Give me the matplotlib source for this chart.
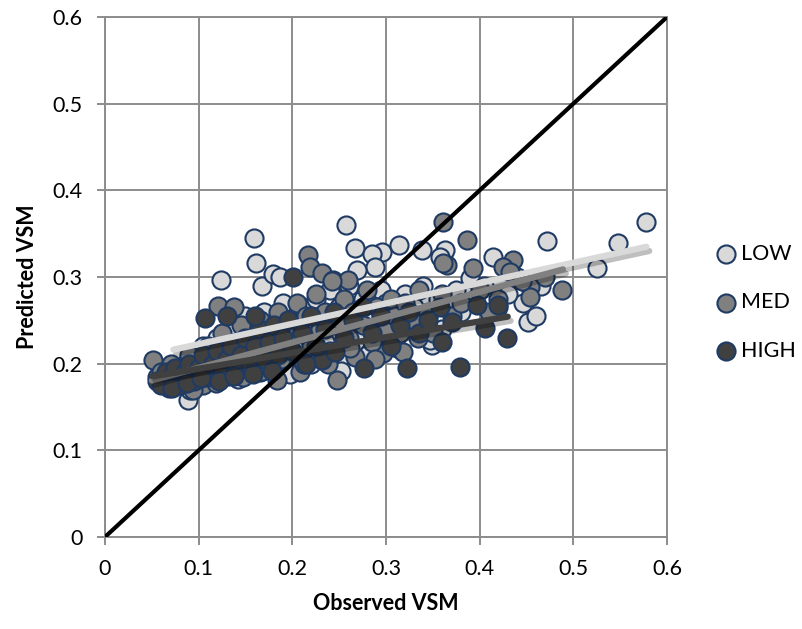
import matplotlib
matplotlib.use('Agg')
import matplotlib.pyplot as plt
import matplotlib.patheffects as pe
import numpy as np

plt.rcParams['font.family'] = ['Lato', 'DejaVu Sans']

# --- data (observed, predicted) ---
low_x = [0.159, 0.161, 0.124, 0.168, 0.179, 0.187, 0.257, 0.267, 0.296, 0.314,
         0.285, 0.338, 0.363, 0.358, 0.288, 0.269, 0.414, 0.390, 0.472, 0.525,
         0.548, 0.578, 0.446, 0.452, 0.349, 0.368, 0.089, 0.091, 0.347,
         0.070, 0.080, 0.085, 0.090, 0.095, 0.100, 0.105, 0.110, 0.115, 0.120,
         0.125, 0.130, 0.135, 0.140, 0.145, 0.150, 0.155, 0.160, 0.165, 0.170,
         0.175, 0.180, 0.185, 0.190, 0.195, 0.200, 0.205, 0.210, 0.215, 0.220,
         0.225, 0.230, 0.235, 0.240, 0.245, 0.250, 0.255, 0.260, 0.265, 0.270,
         0.275, 0.280, 0.290, 0.295, 0.300, 0.305, 0.310, 0.320, 0.325, 0.330,
         0.340, 0.345, 0.355, 0.360, 0.375, 0.380, 0.395, 0.405, 0.420, 0.430,
         0.440, 0.465, 0.460,
         0.075, 0.098, 0.112, 0.128, 0.142, 0.172, 0.198, 0.228, 0.252, 0.282,
         0.312, 0.335]
low_y = [0.345, 0.316, 0.297, 0.290, 0.303, 0.300, 0.360, 0.333, 0.329, 0.337,
         0.327, 0.331, 0.331, 0.323, 0.312, 0.308, 0.323, 0.299, 0.341, 0.310,
         0.339, 0.363, 0.270, 0.248, 0.222, 0.265, 0.158, 0.170, 0.227,
         0.190, 0.185, 0.200, 0.175, 0.210, 0.195, 0.220, 0.180, 0.205, 0.230,
         0.190, 0.215, 0.245, 0.200, 0.225, 0.255, 0.210, 0.235, 0.190, 0.260,
         0.220, 0.245, 0.205, 0.270, 0.230, 0.250, 0.215, 0.265, 0.240, 0.200,
         0.275, 0.255, 0.225, 0.285, 0.245, 0.265, 0.210, 0.290, 0.250, 0.235,
         0.275, 0.260, 0.245, 0.285, 0.270, 0.230, 0.255, 0.280, 0.245, 0.265,
         0.290, 0.255, 0.275, 0.240, 0.285, 0.260, 0.275, 0.290, 0.265, 0.280,
         0.300, 0.290, 0.255,
         0.178, 0.186, 0.196, 0.205, 0.182, 0.198, 0.188, 0.208, 0.192, 0.212,
         0.218, 0.236]

med_x = [0.051, 0.121, 0.138, 0.217, 0.219, 0.232, 0.243, 0.259, 0.361, 0.386,
         0.365, 0.361, 0.436, 0.425, 0.432, 0.393, 0.454, 0.454, 0.488, 0.248,
         0.297, 0.334, 0.315, 0.318, 0.267, 0.208, 0.184, 0.147, 0.242,
         0.055, 0.060, 0.065, 0.070, 0.075, 0.080, 0.085, 0.090, 0.095, 0.100,
         0.105, 0.110, 0.115, 0.120, 0.125, 0.130, 0.135, 0.140, 0.145, 0.150,
         0.155, 0.160, 0.165, 0.170, 0.175, 0.180, 0.185, 0.190, 0.195, 0.200,
         0.205, 0.210, 0.215, 0.220, 0.225, 0.230, 0.235, 0.240, 0.250, 0.255,
         0.260, 0.265, 0.275, 0.280, 0.285, 0.290, 0.300, 0.305, 0.310, 0.320,
         0.330, 0.335, 0.345, 0.350, 0.360, 0.370, 0.380, 0.400, 0.410, 0.420,
         0.445, 0.470,
         0.068, 0.082, 0.094, 0.108, 0.118, 0.132, 0.152, 0.168, 0.188, 0.212,
         0.238, 0.262, 0.288]
med_y = [0.204, 0.267, 0.265, 0.325, 0.312, 0.305, 0.297, 0.297, 0.364, 0.343,
         0.314, 0.316, 0.320, 0.312, 0.306, 0.310, 0.289, 0.277, 0.285, 0.181,
         0.212, 0.230, 0.235, 0.213, 0.208, 0.190, 0.181, 0.185, 0.295,
         0.185, 0.190, 0.180, 0.200, 0.175, 0.195, 0.185, 0.210, 0.190, 0.200,
         0.175, 0.220, 0.195, 0.185, 0.235, 0.200, 0.215, 0.190, 0.245, 0.210,
         0.225, 0.200, 0.250, 0.215, 0.235, 0.200, 0.260, 0.225, 0.245, 0.210,
         0.270, 0.235, 0.255, 0.220, 0.280, 0.240, 0.260, 0.215, 0.250, 0.275,
         0.230, 0.260, 0.245, 0.285, 0.225, 0.265, 0.240, 0.275, 0.255, 0.270,
         0.250, 0.285, 0.260, 0.235, 0.280, 0.255, 0.270, 0.285, 0.260, 0.275,
         0.295, 0.300,
         0.172, 0.182, 0.170, 0.190, 0.178, 0.186, 0.196, 0.192, 0.205, 0.200,
         0.200, 0.218, 0.205]

high_x = [0.107, 0.201, 0.276, 0.322, 0.379, 0.397, 0.420, 0.406, 0.429, 0.370,
          0.358, 0.232, 0.246,
          0.055, 0.060, 0.065, 0.070, 0.075, 0.080, 0.085, 0.090, 0.095, 0.100,
          0.105, 0.110, 0.115, 0.120, 0.125, 0.130, 0.135, 0.140, 0.145, 0.150,
          0.155, 0.160, 0.165, 0.170, 0.175, 0.180, 0.185, 0.190, 0.195, 0.200,
          0.210, 0.220, 0.225, 0.235, 0.245, 0.255, 0.265, 0.275, 0.285, 0.295,
          0.305, 0.315, 0.325, 0.335, 0.345, 0.360,
          0.072, 0.088, 0.102, 0.122, 0.138, 0.158, 0.178, 0.215, 0.130, 0.160]
high_y = [0.253, 0.300, 0.195, 0.195, 0.196, 0.268, 0.268, 0.241, 0.230, 0.248,
          0.265, 0.204, 0.213,
          0.180, 0.175, 0.190, 0.185, 0.195, 0.175, 0.190, 0.200, 0.180, 0.195,
          0.210, 0.185, 0.200, 0.215, 0.190, 0.205, 0.220, 0.195, 0.210, 0.230,
          0.200, 0.220, 0.240, 0.205, 0.225, 0.245, 0.210, 0.230, 0.250, 0.215,
          0.235, 0.255, 0.220, 0.240, 0.260, 0.230, 0.250, 0.265, 0.235, 0.255,
          0.220, 0.245, 0.260, 0.235, 0.250, 0.225,
          0.172, 0.178, 0.183, 0.180, 0.186, 0.188, 0.192, 0.200, 0.255, 0.255]

# linear trend lines (slope, intercept, x start, x end)
low_trend = [0.235, 0.199, 0.073, 0.578]
med_trend = [0.292, 0.166, 0.050, 0.489]
high_trend = [0.182, 0.176, 0.051, 0.430]

series = [
    ('LOW', low_x, low_y, low_trend, '#D9D9D9'),
    ('MED', med_x, med_y, med_trend, '#808080'),
    ('HIGH', high_x, high_y, high_trend, '#404040'),
]

fig = plt.figure(figsize=(8.03, 6.29), dpi=100)
ax = fig.add_axes([105 / 803, 92 / 629, 562 / 803, 520 / 629])

for name, xs, ys, trend, color in series:
    ax.scatter(xs, ys, s=170, c=color, edgecolors='#1F3B64', linewidths=1.5,
               label=name, zorder=3)

for name, xs, ys, trend, color in series:
    slope, icpt, x0, x1 = trend
    tx = np.array([x0, x1])
    ax.plot(tx, slope * tx + icpt, color=color, lw=4.5, solid_capstyle='round',
            zorder=4,
            path_effects=[pe.SimpleLineShadow(offset=(2, -3), alpha=0.25,
                                              shadow_color='black'),
                          pe.Normal()])

ax.plot([0, 0.6], [0, 0.6], color='black', lw=3, zorder=5)

ax.set_xlim(0, 0.6)
ax.set_ylim(0, 0.6)
ticks = [0, 0.1, 0.2, 0.3, 0.4, 0.5, 0.6]
tick_labels = ['0', '0.1', '0.2', '0.3', '0.4', '0.5', '0.6']
ax.set_xticks(ticks)
ax.set_xticklabels(tick_labels)
ax.set_yticks(ticks)
ax.set_yticklabels(tick_labels)
ax.grid(True, color='#8C8C8C', lw=1.4, zorder=0)
ax.set_axisbelow(True)
for sp in ax.spines.values():
    sp.set_color('#8C8C8C')
    sp.set_linewidth(1.4)
ax.tick_params(direction='out', length=6, width=1.4, color='#8C8C8C',
               labelsize=15.5, pad=10)

ax.set_xlabel('Observed VSM', fontsize=15.5, fontweight='bold')
ax.set_ylabel('Predicted VSM', fontsize=15.5, fontweight='bold')
ax.xaxis.set_label_coords(0.5, -0.108)
ax.yaxis.set_label_coords(-0.119, 0.5)

ax.legend(loc='upper left', bbox_to_anchor=(1.075, 0.58), frameon=False,
          fontsize=15.5, handlelength=0.8, handletextpad=0.3,
          labelspacing=1.32, borderaxespad=0)

fig.savefig('out.png', dpi=100)
